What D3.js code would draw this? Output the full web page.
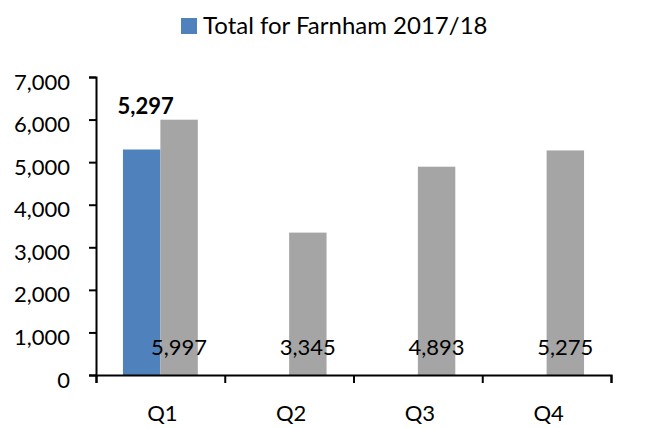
<!DOCTYPE html>
<html>
<head>
<meta charset="utf-8">
<script src="https://cdn.jsdelivr.net/npm/d3@7"></script>
<style>
  body { margin: 0; background: #fff; }
  text { font-family: Lato, "Open Sans", sans-serif; fill: #000; }
</style>
</head>
<body>
<div id="chart"></div>
<script>
// chart data
var quarters = ["Q1", "Q2", "Q3", "Q4"];
var farnham = [5297, null, null, null];   // blue series, only Q1 reported
var totals = [5997, 3345, 4893, 5275];    // grey series
var yTicks = [0, 1000, 2000, 3000, 4000, 5000, 6000, 7000];
var legendLabel = "Total for Farnham 2017/18";

var svgWidth = 662, svgHeight = 428;
var margin = {top: 77, right: 51, bottom: 53, left: 96};
var width = svgWidth - margin.left - margin.right;
var height = svgHeight - margin.top - margin.bottom;

var fmt = d3.format(",");

var svg = d3.select("#chart").append("svg")
    .attr("width", svgWidth)
    .attr("height", svgHeight);

var g = svg.append("g")
    .attr("transform", "translate(" + margin.left + "," + margin.top + ")");

var x = d3.scaleBand().domain(quarters).range([0, width]);
var xInner = d3.scaleBand().domain(["farnham", "total"])
    .range([0, x.bandwidth()]).paddingOuter(0.72);
var y = d3.scaleLinear().domain([0, 7000]).range([height, 0]);

// y axis
var yAxis = g.append("g")
    .call(d3.axisLeft(y).tickValues(yTicks).tickFormat(fmt).tickSize(7).tickPadding(19));
yAxis.selectAll("text").attr("font-size", 22).attr("dy", "0.55em");

// bars
var groups = g.selectAll(".grp")
    .data(quarters)
  .enter().append("g")
    .attr("class", "grp")
    .attr("transform", function(d) { return "translate(" + x(d) + ",0)"; });

groups.filter(function(d, i) { return farnham[i] != null; })
  .append("rect")
    .attr("x", xInner("farnham"))
    .attr("width", xInner.bandwidth())
    .attr("y", function(d) { return y(farnham[quarters.indexOf(d)]); })
    .attr("height", function(d) { return height - y(farnham[quarters.indexOf(d)]); })
    .attr("fill", "#4F81BD");

groups.append("rect")
    .attr("x", xInner("total"))
    .attr("width", xInner.bandwidth())
    .attr("y", function(d, i) { return y(totals[i]); })
    .attr("height", function(d, i) { return height - y(totals[i]); })
    .attr("fill", "#A5A5A5");

// labels for grey bars, at the base
groups.append("text")
    .attr("x", xInner("total") + xInner.bandwidth() / 2)
    .attr("y", height - 20)
    .attr("text-anchor", "middle")
    .attr("font-size", 22)
    .text(function(d, i) { return fmt(totals[i]); });

// bold label for the blue bar
groups.filter(function(d, i) { return farnham[i] != null; })
  .append("text")
    .attr("x", xInner("farnham") + xInner.bandwidth() / 2 + 4)
    .attr("y", function(d) { return y(farnham[quarters.indexOf(d)]) - 35; })
    .attr("text-anchor", "middle")
    .attr("font-size", 22)
    .attr("font-weight", "bold")
    .text(function(d) { return fmt(farnham[quarters.indexOf(d)]); });

// x axis, ticks between the categories
var xEdges = d3.scaleLinear().domain([0, quarters.length]).range([0, width]);
var xAxis = g.append("g")
    .attr("transform", "translate(0," + height + ")")
    .call(d3.axisBottom(xEdges).ticks(quarters.length).tickFormat("").tickSize(8));

g.selectAll(".domain").attr("stroke", "#000").attr("stroke-width", 2);
g.selectAll(".tick line").attr("stroke", "#000").attr("stroke-width", 2);

g.selectAll(".qlabel")
    .data(quarters)
  .enter().append("text")
    .attr("class", "qlabel")
    .attr("x", function(d) { return x(d) + x.bandwidth() / 2 + 2; })
    .attr("y", height + 46)
    .attr("text-anchor", "middle")
    .attr("font-size", 22)
    .text(function(d) { return d; });

// legend
var legend = svg.append("g").attr("transform", "translate(181,18)");
legend.append("rect")
    .attr("width", 16).attr("height", 16)
    .attr("fill", "#4F81BD");
legend.append("text")
    .attr("x", 22)
    .attr("y", 16)
    .attr("font-size", 24)
    .text(legendLabel);
</script>
</body>
</html>
